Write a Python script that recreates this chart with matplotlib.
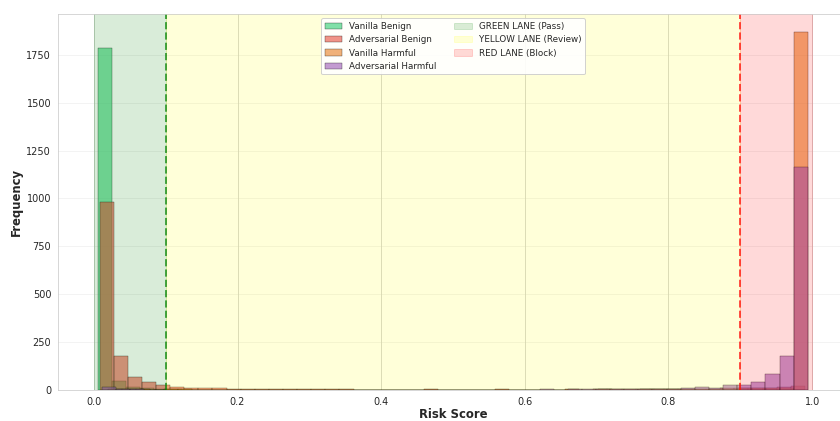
import numpy as np
import matplotlib
matplotlib.use("Agg")
import matplotlib.pyplot as plt
import seaborn as sns

sns.set_style("whitegrid")
plt.rcParams['font.family'] = ['DejaVu Sans']

# ---- data (histogram counts, 50 bins per series) ----
series_names = ["Vanilla Benign", "Adversarial Benign", "Vanilla Harmful", "Adversarial Harmful"]
series_colors = ["#2ecc71", "#e74c3c", "#e67e22", "#9b59b6"]

# score range (min, max) covered by each series' 50 bins
vanilla_benign_range = (0.005, 0.980)
adversarial_benign_range = (0.008, 0.990)
vanilla_harmful_range = (0.019, 0.994)
adversarial_harmful_range = (0.011, 0.994)

vanilla_benign_counts = [1785, 45, 14, 8, 5, 3, 2, 2, 1, 1,
                         1, 0, 1, 0, 0, 1, 0, 0, 0, 0,
                         0, 0, 0, 0, 0, 0, 0, 0, 0, 0,
                         0, 0, 0, 0, 0, 0, 0, 0, 0, 0,
                         0, 0, 0, 0, 0, 0, 0, 0, 0, 2]
adversarial_benign_counts = [980, 178, 70, 42, 28, 17, 12, 10, 8, 7,
                             6, 5, 4, 4, 3, 3, 4, 3, 2, 2,
                             2, 2, 2, 3, 2, 2, 2, 2, 3, 2,
                             2, 2, 2, 3, 2, 3, 3, 4, 4, 5,
                             5, 6, 6, 7, 8, 9, 10, 10, 15, 20]
vanilla_harmful_counts = [3, 4, 3, 2, 4, 3, 2, 2, 1, 2,
                          1, 2, 1, 1, 2, 1, 1, 2, 1, 1,
                          1, 1, 1, 2, 1, 1, 2, 1, 1, 2,
                          1, 2, 1, 2, 2, 3, 2, 2, 3, 4,
                          3, 4, 5, 5, 6, 8, 8, 10, 12, 1870]
adversarial_harmful_counts = [14, 3, 3, 2, 2, 1, 1, 1, 1, 1,
                              1, 1, 1, 1, 2, 2, 1, 2, 1, 1,
                              1, 2, 1, 1, 2, 1, 1, 2, 1, 2,
                              2, 3, 2, 3, 4, 5, 4, 5, 6, 7,
                              6, 8, 17, 12, 28, 28, 43, 83, 178, 1165]

lane_names = ["GREEN LANE (Pass)", "YELLOW LANE (Review)", "RED LANE (Block)"]
lane_bounds = [(0.0, 0.1), (0.1, 0.9), (0.9, 1.0)]
lane_colors = ["green", "yellow", "red"]
thresholds = [0.1, 0.9]
threshold_colors = ["green", "red"]

x_ticks = [0.0, 0.2, 0.4, 0.6, 0.8, 1.0]
y_ticks = [0, 250, 500, 750, 1000, 1250, 1500, 1750]

# ---- plotting ----
fig = plt.figure(figsize=(12, 6.015), dpi=70)
ax = fig.add_axes([58 / 840, 1 - 390 / 421, 790 / 840, 376 / 421])

all_counts = [vanilla_benign_counts, adversarial_benign_counts,
              vanilla_harmful_counts, adversarial_harmful_counts]
all_ranges = [vanilla_benign_range, adversarial_benign_range,
              vanilla_harmful_range, adversarial_harmful_range]

hist_handles = []
for name, color, counts, rng in zip(series_names, series_colors, all_counts, all_ranges):
    edges = np.linspace(rng[0], rng[1], len(counts) + 1)
    centers = (edges[:-1] + edges[1:]) / 2
    _, _, patches = ax.hist(centers, bins=edges, weights=counts, color=color,
                            alpha=0.6, edgecolor="black", linewidth=0.5,
                            label=name)
    hist_handles.append(patches[0])

lane_handles = []
for name, (a, b), c in zip(lane_names, lane_bounds, lane_colors):
    h = ax.axvspan(a, b, color=c, alpha=0.15, label=name)
    lane_handles.append(h)

for t, c in zip(thresholds, threshold_colors):
    ax.axvline(t, color=c, linestyle="--", linewidth=2, alpha=0.7)

ax.set_xlim(-0.05, 1.05)
ax.set_ylim(0, 1963)
ax.set_xticks(x_ticks)
ax.set_yticks(y_ticks)
ax.tick_params(labelsize=10)
ax.set_xlabel("Risk Score", fontsize=12, fontweight="bold", labelpad=1)
ax.set_ylabel("Frequency", fontsize=12, fontweight="bold")
ax.grid(axis="y", alpha=0.3)

ax.legend(hist_handles + lane_handles, series_names + lane_names,
          loc="upper center", ncol=2, fontsize=9, framealpha=0.9)

fig.savefig("out.png", dpi=70)
